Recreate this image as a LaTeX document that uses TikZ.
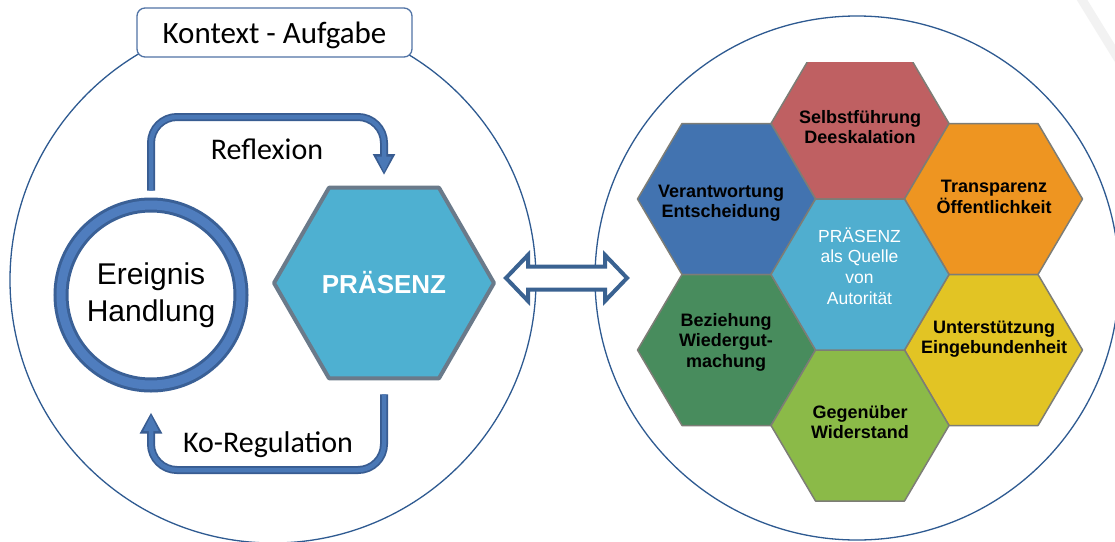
\documentclass[tikz,border=0pt]{standalone}
\usepackage{fontspec}
\setmainfont{Liberation Sans}
\newfontfamily\calibri{Carlito}
\usetikzlibrary{shapes.geometric,arrows.meta}
\definecolor{hexred}{RGB}{191,96,98}
\definecolor{hexblue}{RGB}{66,115,176}
\definecolor{hexorange}{RGB}{238,149,33}
\definecolor{hexcenter}{RGB}{80,174,207}
\definecolor{hexgreen}{RGB}{72,140,93}
\definecolor{hexyellow}{RGB}{226,196,36}
\definecolor{hexlime}{RGB}{139,186,72}
\definecolor{hexedge}{RGB}{125,125,118}
\definecolor{circblue}{RGB}{46,90,145}
\definecolor{boxblue}{RGB}{80,115,165}
\definecolor{ringblue}{RGB}{79,125,190}
\definecolor{ringdark}{RGB}{58,96,150}
\definecolor{bandblue}{RGB}{74,120,182}
\definecolor{banddark}{RGB}{56,92,145}
\definecolor{presfill}{RGB}{78,176,209}
\definecolor{presedge}{RGB}{106,122,138}
\definecolor{arrowblue}{RGB}{58,98,145}
\newcommand\hexcell[3]{\filldraw[hexline, fill=#3] ({#1-89},#2) -- ({#1-44.5},{#2-75.5}) -- ({#1+44.5},{#2-75.5}) -- ({#1+89},#2) -- ({#1+44.5},{#2+75.5}) -- ({#1-44.5},{#2+75.5}) -- cycle;}
\tikzset{
  bigcirc/.style={circle, draw=circblue, line width=1.3pt, inner sep=0pt},
  hexline/.style={draw=hexedge, line width=1.5pt, line join=round},
  hexlabel/.style={font=\fontsize{18}{20.5}\selectfont\bfseries, align=center, text=black},
  bandout/.style={draw=banddark, line width=8pt, rounded corners=26pt, -{Triangle[length=21pt,width=21pt]}},
  bandin/.style={draw=bandblue, line width=4.5pt, rounded corners=26pt, shorten >=2.5pt, -{Triangle[length=16pt,width=14pt]}},
  flowlabel/.style={font=\calibri\fontsize{30}{36}\selectfont, anchor=base},
}
\begin{document}
\begin{tikzpicture}[x=1pt,y=-1pt]
\useasboundingbox (0,0) rectangle (1115,541);
\fill[white] (0,0) rectangle (1115,541);
% faint background stroke
\draw[line width=9pt, black!5] (1079,-5) -- (1119,60);

% big circles
\node[bigcirc, minimum size=526pt] (ctx) at (273,280) {};
\node[bigcirc, minimum size=524pt] (grid) at (857,278) {};

% context label
\node[draw=boxblue, line width=1.3pt, fill=white, rounded corners=8pt, minimum width=275pt, minimum height=49pt, inner sep=0pt, text height=28pt, text depth=5.8pt, font=\calibri\fontsize{31}{36}\selectfont] (kontext) at (274.5,32.5) {Kontext - Aufgabe};

% ring
\node[circle, draw=ringdark, line width=15pt, minimum size=180pt, inner sep=0pt, align=center, font=\fontsize{30}{36.5}\selectfont] (ring) at (151,295) {Ereignis\\Handlung};
\draw[ringblue, line width=9pt] (ring.center) circle[radius=90pt];

% presence hexagon
\node[regular polygon, regular polygon sides=6, minimum size=220pt, inner sep=0pt, fill=presfill, draw=presedge, line width=4pt, line join=round, text=white, font=\fontsize{26}{30}\selectfont\bfseries] (pres) at (384,283) {PRÄSENZ};

% flow arrows
\coordinate (rtop) at (268,117);
\coordinate (rbot) at (268,470);
\draw[bandout] ([yshift=7pt]ring.north) |- (rtop) -| ([yshift=10.7pt]pres.north);
\draw[bandin] ([yshift=7pt]ring.north) |- (rtop) -| ([yshift=10.7pt]pres.north);
\draw[bandout] ([yshift=-14pt]pres.south) |- (rbot) -| ([yshift=-20pt]ring.south);
\draw[bandin] ([yshift=-14pt]pres.south) |- (rbot) -| ([yshift=-20pt]ring.south);
\node[flowlabel] (refl) at (267,159) {Reflexion};
\node[flowlabel] (koreg) at (268,452) {Ko-Regulation};

% double arrow
\filldraw[draw=arrowblue, fill=white, line width=4pt, line join=miter]
  (506,278) -- (528,255) -- (528,266.5) -- (605,266.5) -- (605,255) -- (627,278)
  -- (605,301) -- (605,289.5) -- (528,289.5) -- (528,301) -- cycle;

% honeycomb
\begin{scope}
  \clip (0,62) rectangle (1115,541);
  \hexcell{860}{123.5}{hexred}
\end{scope}
\hexcell{726.5}{199}{hexblue}
\hexcell{993.5}{199}{hexorange}
\hexcell{726.5}{350}{hexgreen}
\hexcell{993.5}{350}{hexyellow}
\hexcell{860}{425.5}{hexlime}
\hexcell{860}{274.5}{hexcenter}

\node[hexlabel] (selbst) at (860,127) {Selbstführung\\Deeskalation};
\node[hexlabel] (verant) at (721,203) {Verantwortung\\Entscheidung};
\node[hexlabel] (transp) at (994,197) {Transparenz\\Öffentlichkeit};
\node[hexlabel] (bezieh) at (726,342) {Beziehung\\Wiedergut-\\machung};
\node[hexlabel] (unterst) at (994,339) {Unterstützung\\Eingebundenheit};
\node[hexlabel] (gegen) at (860,422) {Gegenüber\\Widerstand};
\node[align=center, text=white, font=\fontsize{17.5}{20.6}\selectfont] (quelle) at (859.5,266) {PRÄSENZ\\als Quelle\\von\\Autorität};
\end{tikzpicture}
\end{document}
